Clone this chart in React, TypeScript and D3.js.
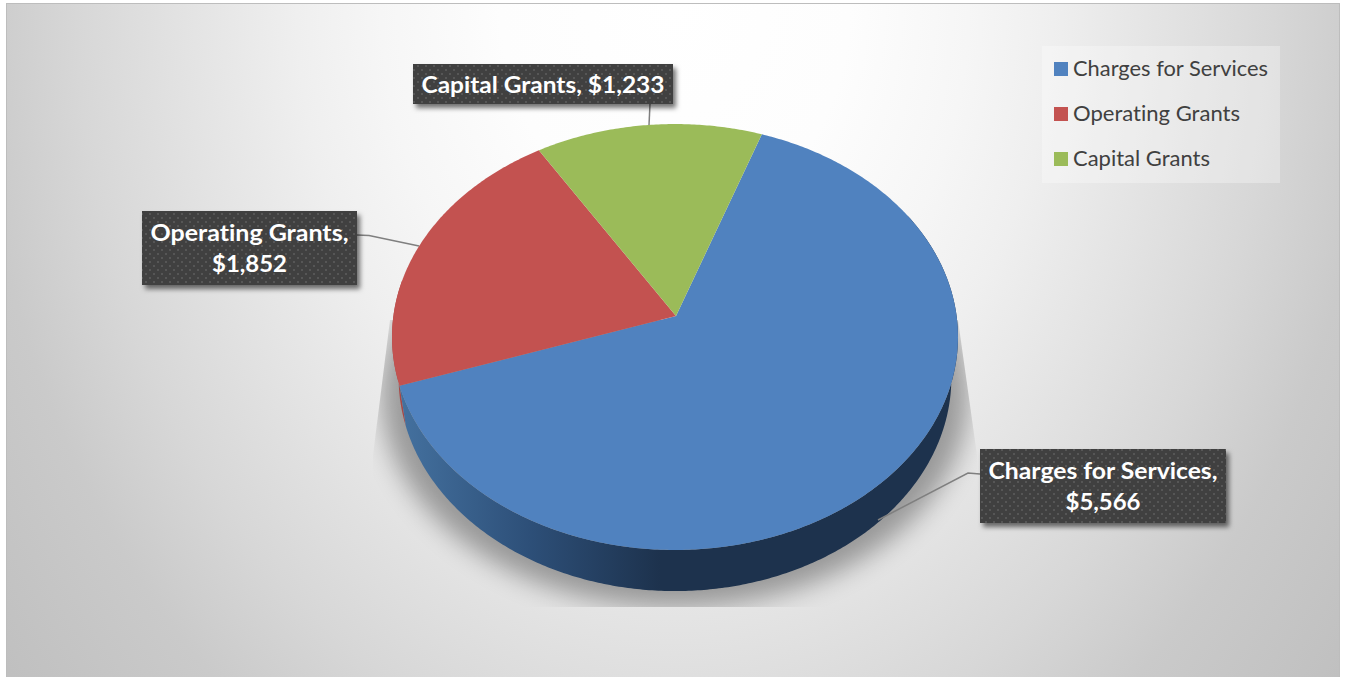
import React from "react";
import * as d3 from "d3";

// Revenue sources and their amounts
const categories = ["Charges for Services", "Operating Grants", "Capital Grants"];
const amounts = [5566, 1852, 1233];
const sliceColors = ["#5082bf", "#c35250", "#9bbb59"];

const W = 1346;
const H = 677;
const FONT = "Lato, Carlito, 'Open Sans', sans-serif";

// Perspective disc: k controls the foreshortening of the far edge
const k = 0.0986;
const topDisc = { cx: 675, cy: 316, rx: 281.6, ry: 210.9 };
const baseDisc = { cx: 675, cy: 357, rx: 275, ry: 211 };
const START = (19.7 * Math.PI) / 180;

type Disc = typeof topDisc;
const project = (disc: Disc, a: number): [number, number] => {
  const u = Math.sin(a);
  const v = -Math.cos(a);
  const w = 1 - k * v;
  return [disc.cx + (disc.rx * u) / w, disc.cy + (disc.ry * v) / w];
};

const arcSamples = (a0: number, a1: number) => {
  const n = Math.max(2, Math.ceil(Math.abs(a1 - a0) / 0.01));
  return d3.range(n + 1).map((i) => a0 + ((a1 - a0) * i) / n);
};

const line = d3.line<[number, number]>().curve(d3.curveLinear);

const pie = d3
  .pie<number>()
  .sort(null)
  .startAngle(START)
  .endAngle(START + 2 * Math.PI);
const slices = pie(amounts);

const colorOf = d3.scaleOrdinal<string, string>().domain(categories).range(sliceColors);
const legendY = d3.scalePoint<string>().domain(categories).range([69, 159]);
const money = d3.format("$,");

const wallPath = (a0: number, a1: number) =>
  line([
    ...arcSamples(a0, a1).map((a) => project(topDisc, a)),
    ...arcSamples(a1, a0).map((a) => project(baseDisc, a)),
  ]) + "Z";

const slicePath = (a0: number, a1: number) =>
  line([[topDisc.cx + 1, topDisc.cy], ...arcSamples(a0, a1).map((a) => project(topDisc, a))]) + "Z";

// Callout boxes, their text baselines and leader lines, in category order
const callouts = [
  {
    box: [980, 449, 246, 74],
    lines: [`${categories[0]},`, money(amounts[0])],
    widths: [229, 75],
    baselines: [479, 510],
    leader: [[980, 474], [968, 473], [878, 520]],
  },
  {
    box: [142, 211, 215, 74],
    lines: [`${categories[1]},`, money(amounts[1])],
    widths: [198, 75],
    baselines: [241, 272],
    leader: [[357, 235], [369, 235.5], [419, 246]],
  },
  {
    box: [413, 64, 260, 40],
    lines: [`${categories[2]}, ${money(amounts[2])}`],
    widths: [243],
    baselines: [93],
    leader: [[650, 104], [649, 125]],
  },
];

export default function App() {
  const blue = slices[0];
  const red = slices[1];
  return (
    <svg
      width={W}
      height={H}
      viewBox={`0 0 ${W} ${H}`}
      style={{ position: "absolute", left: 0, top: 0, display: "block", fontVariantLigatures: "none" }}
    >
      <defs>
        <radialGradient
          id="panelBg"
          gradientUnits="userSpaceOnUse"
          cx={0}
          cy={0}
          r={1}
          gradientTransform="translate(675 0) scale(875 1125)"
        >
          <stop offset="0" stopColor="#ffffff" />
          <stop offset="0.2" stopColor="#fdfdfd" />
          <stop offset="0.336" stopColor="#f6f6f6" />
          <stop offset="0.432" stopColor="#efefef" />
          <stop offset="0.56" stopColor="#e3e3e3" />
          <stop offset="0.684" stopColor="#d7d7d7" />
          <stop offset="0.8" stopColor="#cacaca" />
          <stop offset="1" stopColor="#bebebe" />
        </radialGradient>
        <linearGradient id="blueWall" gradientUnits="userSpaceOnUse" x1={400} x2={660} y1={0} y2={0}>
          <stop offset="0" stopColor="#44719f" />
          <stop offset="0.5" stopColor="#2d4f78" />
          <stop offset="1" stopColor="#1d324d" />
        </linearGradient>
        <filter id="groundBlur" x="-20%" y="-20%" width="140%" height="140%">
          <feGaussianBlur stdDeviation="13" />
        </filter>
        <filter id="boxShadow" x="-10%" y="-20%" width="125%" height="150%">
          <feDropShadow dx="3" dy="4" stdDeviation="2.5" floodColor="#000" floodOpacity="0.55" />
        </filter>
        <clipPath id="groundClip">
          <path d="M390 320 L373 455 L373 607 L977 607 L977 455 L958 320 Z" />
        </clipPath>
        <pattern id="dots" width="8" height="8" patternUnits="userSpaceOnUse">
          <rect width="8" height="8" fill="#404040" />
          <rect x="1" y="1" width="2" height="2" fill="#575757" />
          <rect x="5" y="5" width="2" height="2" fill="#575757" />
        </pattern>
      </defs>

      {/* Chart panel */}
      <rect x={0} y={0} width={W} height={H} fill="#ffffff" />
      <rect x={6.5} y={3.5} width={1333} height={674} fill="url(#panelBg)" stroke="#bdbdbd" strokeWidth={1} />

      {/* Ground shadow under the disc */}
      <g clipPath="url(#groundClip)">
        <ellipse cx={675} cy={393} rx={294} ry={214} fill="#000" opacity={0.34} filter="url(#groundBlur)" />
      </g>

      {/* Side walls, back to front */}
      <path d={wallPath(red.startAngle, red.startAngle + 0.5)} fill="#a94745" />
      <path d={wallPath(Math.PI / 3, blue.endAngle)} fill="url(#blueWall)" />

      {/* Top face */}
      {slices.map((s, i) => (
        <path key={categories[i]} d={slicePath(s.startAngle, s.endAngle)} fill={colorOf(categories[i])} />
      ))}

      {/* Leader lines */}
      {callouts.map((c, i) => (
        <path
          key={i}
          d={line(c.leader as [number, number][]) as string}
          fill="none"
          stroke="#7f7f7f"
          strokeWidth={1.5}
        />
      ))}

      {/* Data callouts */}
      {callouts.map((c, i) => (
        <g key={i}>
          <rect
            x={c.box[0]}
            y={c.box[1]}
            width={c.box[2]}
            height={c.box[3]}
            fill="url(#dots)"
            filter="url(#boxShadow)"
          />
          {c.lines.map((t, j) => (
            <text
              key={j}
              x={c.box[0] + c.box[2] / 2}
              y={c.baselines[j]}
              textAnchor="middle"
              fontFamily={FONT}
              fontWeight={700}
              fontSize={23.5}
              fill="#ffffff"
              textLength={c.widths[j]}
              lengthAdjust="spacingAndGlyphs"
            >
              {t}
            </text>
          ))}
        </g>
      ))}

      {/* Legend */}
      <rect x={1042} y={46} width={238} height={137} fill="#ffffff" opacity={0.3} />
      {categories.map((name) => (
        <g key={name}>
          <rect x={1054} y={(legendY(name) as number) - 7} width={14} height={14} fill={colorOf(name)} />
          <text
            x={1073}
            y={(legendY(name) as number) + 7}
            fontFamily={FONT}
            fontSize={22}
            fill="#404040"
            textLength={name === categories[0] ? 195 : name === categories[1] ? 167 : 137}
            lengthAdjust="spacingAndGlyphs"
          >
            {name}
          </text>
        </g>
      ))}
    </svg>
  );
}
